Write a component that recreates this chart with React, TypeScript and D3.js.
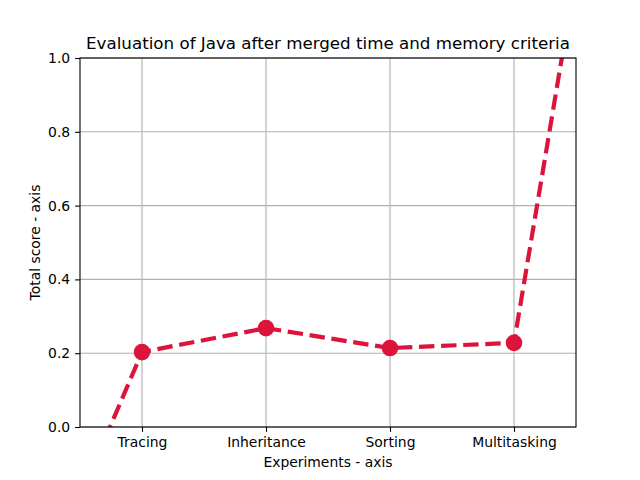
import React, { useEffect, useRef } from 'react'
import * as d3 from 'd3'

const experiments = ['Tracing', 'Inheritance', 'Sorting', 'Multitasking']
const scores = [0.203, 0.268, 0.214, 0.228]
// the dashed line runs on past both ends of the axes
const lineIndex = [-1, 0, 1, 2, 3, 4]
const lineScores = [-0.584, 0.203, 0.268, 0.214, 0.228, 2.23]
const yTicks = [0, 0.2, 0.4, 0.6, 0.8, 1.0]

const width = 640
const height = 480
const margin = { top: 58, right: 64, bottom: 53, left: 80 }
const red = '#DC143C'
const font = 'DejaVu Sans, sans-serif'

export default function App () {
  const ref = useRef<SVGSVGElement>(null)

  useEffect(() => {
    const svg = d3.select(ref.current)
    svg.selectAll('*').remove()

    const x = d3.scaleLinear().domain([-0.5, 3.5]).range([margin.left, width - margin.right])
    const y = d3.scaleLinear().domain([0, 1]).range([height - margin.bottom, margin.top])

    svg.append('rect').attr('width', width).attr('height', height).attr('fill', '#fff')

    svg.append('defs').append('clipPath').attr('id', 'plot-clip')
      .append('rect')
      .attr('x', margin.left).attr('y', margin.top)
      .attr('width', width - margin.left - margin.right)
      .attr('height', height - margin.top - margin.bottom)

    const grid = svg.append('g').attr('stroke', '#b0b0b0').attr('stroke-width', 1.1)
    experiments.forEach((_, i) => {
      grid.append('line').attr('x1', x(i)).attr('x2', x(i)).attr('y1', y(0)).attr('y2', y(1))
    })
    yTicks.forEach(t => {
      grid.append('line').attr('x1', x(-0.5)).attr('x2', x(3.5)).attr('y1', y(t)).attr('y2', y(t))
    })

    const line = d3.line<number>()
      .x((_, i) => x(lineIndex[i]))
      .y(d => y(d))

    const plot = svg.append('g').attr('clip-path', 'url(#plot-clip)')
    plot.append('path')
      .datum(lineScores)
      .attr('d', line)
      .attr('fill', 'none')
      .attr('stroke', red)
      .attr('stroke-width', 4.2)
      .attr('stroke-dasharray', '15.4,6.7')

    plot.selectAll('circle')
      .data(scores)
      .enter().append('circle')
      .attr('cx', (_, i) => x(i))
      .attr('cy', d => y(d))
      .attr('r', 8.3)
      .attr('fill', red)

    svg.append('rect')
      .attr('x', margin.left).attr('y', margin.top)
      .attr('width', width - margin.left - margin.right)
      .attr('height', height - margin.top - margin.bottom)
      .attr('fill', 'none').attr('stroke', '#000').attr('stroke-width', 1.1)

    const xAxis = svg.append('g')
      .attr('transform', `translate(0,${height - margin.bottom})`)
      .call(d3.axisBottom(x).tickValues([0, 1, 2, 3]).tickFormat(i => experiments[+i]).tickSize(4.9).tickPadding(4.9))
    const yAxis = svg.append('g')
      .attr('transform', `translate(${margin.left},0)`)
      .call(d3.axisLeft(y).tickValues(yTicks).tickFormat(d3.format('.1f')).tickSize(4.9).tickPadding(4.9))

    ;[xAxis, yAxis].forEach(a => {
      a.select('.domain').remove()
      a.selectAll('line').attr('stroke', '#000').attr('stroke-width', 1.1)
      a.selectAll('text').attr('font-family', font).attr('font-size', 13.9).attr('fill', '#000')
    })

    svg.append('text')
      .attr('x', (margin.left + width - margin.right) / 2).attr('y', 49)
      .attr('text-anchor', 'middle')
      .attr('font-family', font).attr('font-size', 16.7)
      .text('Evaluation of Java after merged time and memory criteria')

    svg.append('text')
      .attr('x', (margin.left + width - margin.right) / 2).attr('y', 467)
      .attr('text-anchor', 'middle')
      .attr('font-family', font).attr('font-size', 13.9)
      .text('Experiments - axis')

    svg.append('text')
      .attr('transform', `translate(40,${(margin.top + height - margin.bottom) / 2}) rotate(-90)`)
      .attr('text-anchor', 'middle')
      .attr('font-family', font).attr('font-size', 13.9)
      .text('Total score - axis')
  }, [])

  return <svg
    ref={ref}
    width={width}
    height={height}
    style={{ position: 'absolute', left: 0, top: 0, display: 'block' }}
  />
}
